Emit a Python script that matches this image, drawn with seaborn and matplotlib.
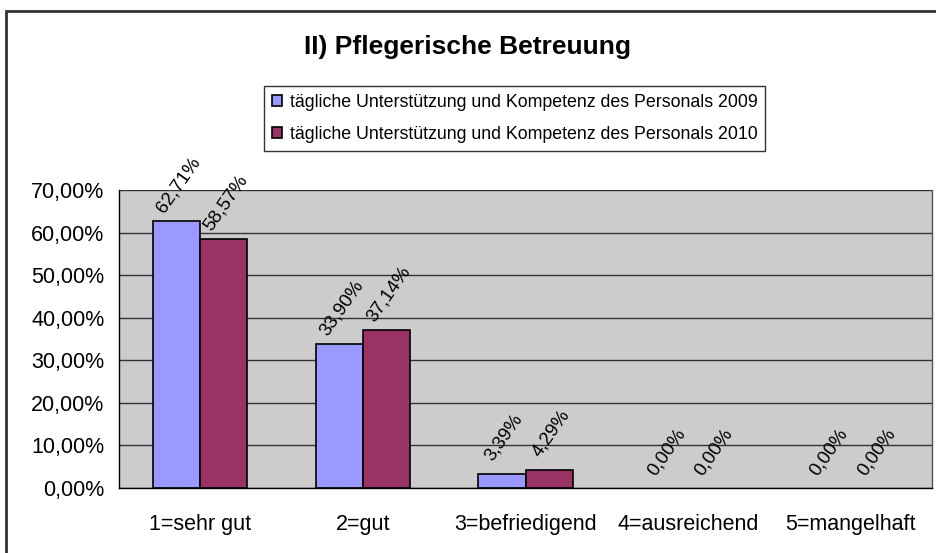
import matplotlib
matplotlib.use("Agg")
import matplotlib.pyplot as plt
import seaborn as sns
import pandas as pd
from matplotlib.patches import Rectangle
from matplotlib.ticker import FixedLocator

categories = ["1=sehr gut", "2=gut", "3=befriedigend", "4=ausreichend", "5=mangelhaft"]
series_names = ["tägliche Unterstützung und Kompetenz des Personals 2009",
                "tägliche Unterstützung und Kompetenz des Personals 2010"]
values_2009 = [62.71, 33.90, 3.39, 0.00, 0.00]
values_2010 = [58.57, 37.14, 4.29, 0.00, 0.00]
ytick_values = [0, 10, 20, 30, 40, 50, 60, 70]
title = "II) Pflegerische Betreuung"

df = pd.DataFrame({
    "Kategorie": categories * 2,
    "Wert": values_2009 + values_2010,
    "Serie": [series_names[0]] * 5 + [series_names[1]] * 5,
})

sns.set_style("white")
plt.rcParams["font.family"] = ["Liberation Sans", "DejaVu Sans"]
plt.rcParams["text.color"] = "black"
plt.rcParams["xtick.color"] = "black"
plt.rcParams["ytick.color"] = "black"
plt.rcParams["axes.labelcolor"] = "black"

fig = plt.figure(figsize=(9.36, 5.53), dpi=100)
ax = fig.add_axes([119/936, 1-488/553, (932-119)/936, (488-190)/553])

palette = ["#9999FF", "#993366"]
sns.barplot(data=df, x="Kategorie", y="Wert", hue="Serie", order=categories,
            hue_order=series_names, palette=palette, width=0.58,
            edgecolor="black", linewidth=1.2, ax=ax, saturation=1, legend=True)

ax.set_facecolor("#CCCCCC")
ax.set_ylim(0, 70)
ax.set_xlim(-0.5, 4.5)
ax.set_yticks(ytick_values)
ax.set_yticklabels([f"{v:.2f}".replace(".", ",") + "%" for v in ytick_values], fontsize=15.5)
ax.yaxis.grid(True, color="#333333", linewidth=1)
ax.set_axisbelow(True)
ax.set_xlabel("")
ax.set_ylabel("")

ax.tick_params(axis="x", which="major", length=0, labelsize=15.5, pad=19)
ax.xaxis.set_minor_locator(FixedLocator([-0.5, 0.5, 1.5, 2.5, 3.5, 4.5]))
ax.tick_params(axis="x", which="minor", length=5, width=1, color="black", direction="out")
ax.tick_params(axis="y", length=4.5, width=1, color="black", direction="out", pad=6)

for side in ["left", "bottom"]:
    ax.spines[side].set_color("black")
    ax.spines[side].set_linewidth(1)
ax.spines["top"].set_visible(False)
ax.spines["right"].set_color("#555555")
ax.spines["right"].set_linewidth(1)

for container in ax.containers:
    for bar in container:
        h = bar.get_height()
        if h == 0:
            bar.set_visible(False)
        x = bar.get_x() + bar.get_width() / 2
        ax.annotate(f"{h:.2f}".replace(".", ",") + "%", xy=(x, h), xytext=(1.5, 26),
                    textcoords="offset points", ha="center", va="center",
                    rotation=55, fontsize=13.5)

handles, labels = ax.get_legend_handles_labels()
ax.get_legend().remove()
leg = fig.legend(handles, labels, loc="center", bbox_to_anchor=((264+765)/2/936, 1-(85+152)/2/553),
                 fontsize=12.8, frameon=True, fancybox=False, edgecolor="black",
                 handlelength=0.6, handleheight=0.6, handletextpad=0.4, borderpad=0.45,
                 labelspacing=0.85, borderaxespad=0)
leg.get_frame().set_linewidth(1)

fig.text(467/936, 1-47/553, title, ha="center", va="center", fontsize=19, fontweight="bold")

border = Rectangle((6/936, -0.1), 1.1, 1-11/553+0.1, transform=fig.transFigure,
                   fill=False, edgecolor="#333333", linewidth=2, clip_on=False)
fig.patches.append(border)

fig.savefig("out.png", dpi=100)
